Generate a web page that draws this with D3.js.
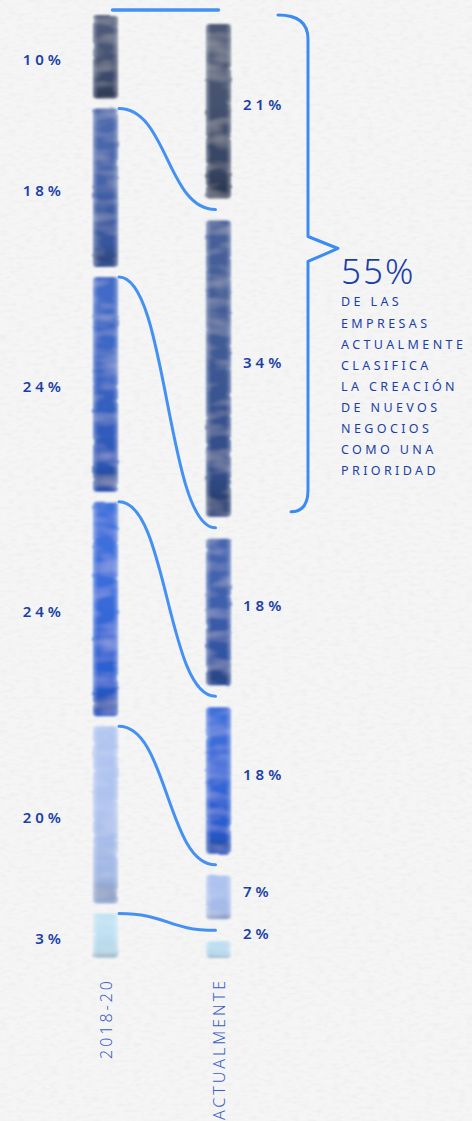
<!DOCTYPE html>
<html>
<head>
<meta charset="utf-8">
<script src="https://cdn.jsdelivr.net/npm/d3@7"></script>
<style>
  body { margin: 0; background: #f4f4f4; }
  svg { display: block; }
</style>
</head>
<body>
<div id="chart"></div>
<script>
// DATA
const COLUMNS = ["2018-20", "ACTUALMENTE"];
const VALUES_2018 = [10, 18, 24, 24, 20, 3];
const VALUES_NOW = [21, 34, 18, 18, 7, 2];
const HIGHLIGHT_VALUE = "55%";
const HIGHLIGHT_SEGMENTS = 2;   // first two segments of ACTUALMENTE
const HIGHLIGHT_LINES = ["DE LAS", "EMPRESAS", "ACTUALMENTE", "CLASIFICA",
  "LA CREACIÓN", "DE NUEVOS", "NEGOCIOS", "COMO UNA", "PRIORIDAD"];

// STYLES
const COLORS_2018 = ["#3c4a6c", "#3a5aa4", "#2f5cc0", "#2c62d8", "#a9bfee", "#bde0f2"];
const COLORS_NOW  = ["#394767", "#34508f", "#3356a8", "#2b60d6", "#a6bdee", "#b9dcf1"];
const LINK_COLOR = "#3b8bf2";
const TEXT_COLOR = "#1a3fa8";
const AXIS_COLOR = "#3b60c6";
const FONT = "'Noto Sans', 'Open Sans', sans-serif";

const WIDTH = 472;
const HEIGHT = 1121;
const BAR_W = 25;
const MIN_BAR_H = 16;
const BASELINE = 958;            // both columns end on the same line
const PAD = [{top: 5, bottom: 5}, {top: 14, bottom: 8}];

const X = d3.scalePoint().domain(COLUMNS).range([105.5, 218.5]);
const Y = d3.scaleLinear().domain([0, 100]).range([10, 946]);

const SVG = d3.select("#chart").append("svg")
  .attr("width", WIDTH)
  .attr("height", HEIGHT);

const DEFS = SVG.append("defs");

// paper texture
const PAPER = DEFS.append("filter").attr("id", "paper")
  .attr("x", 0).attr("y", 0).attr("width", "100%").attr("height", "100%");
PAPER.append("feTurbulence").attr("type", "fractalNoise")
  .attr("baseFrequency", "0.12 0.3").attr("numOctaves", 3).attr("seed", 7).attr("result", "n");
PAPER.append("feColorMatrix").attr("in", "n").attr("type", "matrix")
  .attr("values", "0 0 0 0 0.5  0 0 0 0 0.5  0 0 0 0 0.52  0 0 0 -0.25 0.14");

// watercolor bars
const WC = DEFS.append("filter").attr("id", "wc")
  .attr("x", "-30%").attr("y", "-5%").attr("width", "160%").attr("height", "110%");
WC.append("feTurbulence").attr("type", "fractalNoise")
  .attr("baseFrequency", "0.04 0.12").attr("numOctaves", 2).attr("seed", 3).attr("result", "edge");
WC.append("feDisplacementMap").attr("in", "SourceGraphic").attr("in2", "edge")
  .attr("scale", 2.5).attr("xChannelSelector", "R").attr("yChannelSelector", "G").attr("result", "d");
WC.append("feTurbulence").attr("type", "fractalNoise")
  .attr("baseFrequency", "0.03 0.08").attr("numOctaves", 2).attr("seed", 11).attr("result", "grain");
WC.append("feColorMatrix").attr("in", "grain").attr("type", "matrix")
  .attr("values", "0 0 0 0 1  0 0 0 0 1  0 0 0 0 1  0 0 0 -0.45 0.26").attr("result", "g2");
WC.append("feComposite").attr("in", "g2").attr("in2", "d").attr("operator", "in").attr("result", "g3");
const MERGE = WC.append("feMerge").attr("result", "m");
MERGE.append("feMergeNode").attr("in", "d");
MERGE.append("feMergeNode").attr("in", "g3");
WC.append("feGaussianBlur").attr("in", "m").attr("stdDeviation", 0.8);

// shading gradients
const SHADE_V = DEFS.append("linearGradient").attr("id", "shadeV")
  .attr("x1", 0).attr("y1", 0).attr("x2", 0).attr("y2", 1);
[[0, "#fff", 0.1], [0.45, "#fff", 0.06], [0.85, "#000", 0.04], [0.95, "#000", 0.2], [1, "#000", 0.08]]
  .forEach(s => SHADE_V.append("stop").attr("offset", s[0]).attr("stop-color", s[1]).attr("stop-opacity", s[2]));
const SHADE_H = DEFS.append("linearGradient").attr("id", "shadeH");
[[0, "#fff", 0.35], [0.2, "#fff", 0], [0.8, "#fff", 0], [1, "#fff", 0.35]]
  .forEach(s => SHADE_H.append("stop").attr("offset", s[0]).attr("stop-color", s[1]).attr("stop-opacity", s[2]));

SVG.append("rect").attr("width", WIDTH).attr("height", HEIGHT).attr("fill", "#f5f5f5");
SVG.append("rect").attr("width", WIDTH).attr("height", HEIGHT).attr("filter", "url(#paper)");

// BUILD SEGMENTS
function buildSegments(values, column, colors) {
  const ends = d3.cumsum(values);
  return values.map((v, i) => ({
    value: v, start: ends[i] - v, end: ends[i], index: i,
    last: i === values.length - 1,
    column: column, color: colors[i]
  }));
}

const SEGMENTS = [
  buildSegments(VALUES_2018, 0, COLORS_2018),
  buildSegments(VALUES_NOW, 1, COLORS_NOW)
];

function barTop(d) { return Y(d.start) + PAD[d.column].top; }
function barBottom(d) {
  if (d.last) return Math.max(BASELINE, barTop(d) + MIN_BAR_H);
  return Y(d.end) - PAD[d.column].bottom;
}
function barHeight(d) { return barBottom(d) - barTop(d); }

// DRAW BARS
const BAR_G = SVG.append("g").attr("filter", "url(#wc)");
SEGMENTS.forEach(segs => {
  const g = BAR_G.selectAll(null).data(segs).enter().append("g");
  const x = d => X(COLUMNS[d.column]) - BAR_W / 2;
  ["color", "url(#shadeV)", "url(#shadeH)"].forEach(fill => {
    g.append("rect")
      .attr("x", x).attr("y", barTop)
      .attr("width", BAR_W).attr("height", barHeight)
      .attr("rx", 4).attr("fill", d => fill === "color" ? d.color : fill);
  });
});

// DRAW LINKS
const LINK = d3.linkHorizontal().x(d => d[0]).y(d => d[1]);
const LEFT_STARTS = SEGMENTS[0].map(d => d.start);
const RIGHT_STARTS = SEGMENTS[1].map(d => d.start);
const LINKS = LEFT_STARTS.map((s, i) => ({
  source: [X(COLUMNS[0]) + (i === 0 ? 7 : BAR_W / 2 + 1), Y(s) + (i === 0 ? 0 : 5)],
  target: [X(COLUMNS[1]) - (i === 0 ? 0 : 3), Y(RIGHT_STARTS[i]) + (i === 0 ? 0 : 3)]
}));

SVG.append("g").selectAll("path").data(LINKS).enter().append("path")
  .attr("d", LINK)
  .attr("fill", "none")
  .attr("stroke", LINK_COLOR)
  .attr("stroke-width", (d, i) => i === 0 ? 3.5 : 3)
  .attr("stroke-linecap", "round")
  .attr("opacity", 0.95);

// VALUE LABELS
const LABEL_G = SVG.append("g")
  .attr("font-family", FONT).attr("font-size", 15).attr("font-weight", 600)
  .attr("letter-spacing", 4).attr("fill", TEXT_COLOR);

LABEL_G.selectAll(".l").data(SEGMENTS[0]).enter().append("text")
  .attr("x", 65)
  .attr("y", d => (barTop(d) + barBottom(d)) / 2 + 8)
  .attr("text-anchor", "end")
  .text(d => d.value + "%");

LABEL_G.selectAll(".r").data(SEGMENTS[1]).enter().append("text")
  .attr("x", 243)
  .attr("y", d => (Y(d.start) + Y(d.end)) / 2 + 2)
  .text(d => d.value + "%");

// BRACKET
const B_TOP = Y(0) + 5;
const B_BOT = Y(d3.sum(VALUES_NOW.slice(0, HIGHLIGHT_SEGMENTS))) - 13;
const B_MID = B_TOP + (B_BOT - B_TOP) * 0.47;
const BX = 308;
const bracket = d3.path();
bracket.moveTo(278, B_TOP);
bracket.quadraticCurveTo(BX, B_TOP, BX, B_TOP + 24);
bracket.lineTo(BX, B_MID - 12);
bracket.lineTo(BX + 30, B_MID);
bracket.lineTo(BX, B_MID + 13);
bracket.lineTo(BX, B_BOT - 22);
bracket.quadraticCurveTo(BX, B_BOT, 291, B_BOT);

SVG.append("path")
  .attr("d", bracket.toString())
  .attr("fill", "none")
  .attr("stroke", LINK_COLOR)
  .attr("stroke-width", 3)
  .attr("stroke-linejoin", "round")
  .attr("stroke-linecap", "round");

SVG.append("text")
  .attr("x", 341).attr("y", B_MID + 36)
  .attr("font-family", FONT).attr("font-size", 35).attr("font-weight", 300)
  .attr("letter-spacing", 2).attr("fill", TEXT_COLOR)
  .text(HIGHLIGHT_VALUE);

SVG.append("g")
  .attr("font-family", FONT).attr("font-size", 12.5).attr("font-weight", 400)
  .attr("letter-spacing", 3.4).attr("fill", TEXT_COLOR)
  .selectAll("text").data(HIGHLIGHT_LINES).enter().append("text")
  .attr("x", 341)
  .attr("y", (d, i) => B_MID + 58 + i * 21.1)
  .text(d => d);

// COLUMN LABELS
SVG.append("g").selectAll("text").data(COLUMNS).enter().append("text")
  .attr("transform", d => "translate(" + (X(d) + 6) + "," + 978 + ") rotate(-90)")
  .attr("text-anchor", "end")
  .attr("font-family", FONT).attr("font-size", 16).attr("font-weight", 300)
  .attr("letter-spacing", 3).attr("fill", AXIS_COLOR)
  .text(d => d);
</script>
</body>
</html>
